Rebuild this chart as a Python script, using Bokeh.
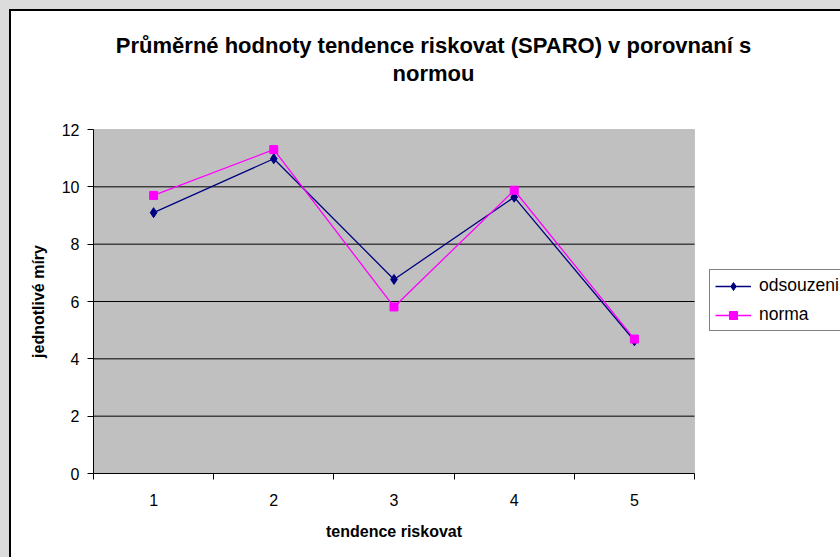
from bokeh.plotting import figure
from bokeh.models import FixedTicker, Legend, LegendItem, Range1d, BoxAnnotation, Label
from bokeh.embed import file_html
from bokeh.resources import INLINE

# ---- data ----
title_lines = ["Průměrné hodnoty tendence riskovat (SPARO) v porovnaní s", "normou"]
categories = ["1", "2", "3", "4", "5"]
odsouzeni = [9.10, 10.98, 6.77, 9.64, 4.63]
norma = [9.70, 11.30, 5.81, 9.88, 4.69]
y_ticks = [0, 2, 4, 6, 8, 10, 12]
x_label = "tendence riskovat"
y_label = "jednotlivé míry"
series_names = ["odsouzeni", "norma"]

FONT = "Liberation Sans"
W, H = 840, 557
# plot-area edges in pixels
PL, PR, PT, PB = 93, 694, 129, 473
TITLE_CX = 433
TITLE_Y = [45, 73]
LEGEND_LEFT, LEGEND_BOTTOM = 709, 331

x_pos = list(range(1, len(categories) + 1))
x_lo, x_hi = 0.5, len(categories) + 0.5
y_lo, y_hi = y_ticks[0], y_ticks[-1]

# the frame fills the whole canvas; the plot area is a data-space box inside it
kx = (x_hi - x_lo) / (PR - PL)
ky = (y_hi - y_lo) / (PB - PT)
xr = Range1d(x_lo - PL * kx, x_hi + (W - PR) * kx)
yr = Range1d(y_lo - (H - PB) * ky, y_hi + PT * ky)

p = figure(width=W, height=H, output_backend="svg", toolbar_location=None, title=None,
           x_range=xr, y_range=yr, min_border=0)
p.background_fill_alpha = 0
p.border_fill_alpha = 0
p.outline_line_color = None
p.styles = {"background-color": "white",
            "box-shadow": "inset 9px 9px 0 0 #dcdcdc, inset 11px 11px 0 0 #000000"}

# plot area
p.add_layout(BoxAnnotation(left=x_lo, right=x_hi, bottom=y_lo, top=y_hi,
                           fill_color="#c0c0c0", fill_alpha=1,
                           line_color="#808080", line_width=1, level="image"))

# horizontal grid lines
grid_vals = y_ticks[1:-1]
p.segment(x0=[x_lo] * len(grid_vals), x1=[x_hi] * len(grid_vals), y0=grid_vals, y1=grid_vals,
          line_color="black", line_width=1)

# axes
xa = p.xaxis[0]
xa.fixed_location = y_lo
xa.bounds = (x_lo, x_hi)
xa.ticker = FixedTicker(ticks=x_pos, minor_ticks=[x - 0.5 for x in x_pos] + [x_pos[-1] + 0.5])
xa.major_label_overrides = {x: c for x, c in zip(x_pos, categories)}
xa.major_tick_out = 0
xa.major_tick_in = 0
xa.minor_tick_out = 6
xa.minor_tick_in = 0
xa.minor_tick_line_color = "black"
xa.axis_line_color = "black"
xa.major_label_text_font = FONT
xa.major_label_text_font_size = "16px"
xa.major_label_text_color = "black"
xa.major_label_standoff = 14
xa.axis_label = x_label
xa.axis_label_text_font = FONT
xa.axis_label_text_font_style = "bold"
xa.axis_label_text_font_size = "16px"
xa.axis_label_text_color = "black"
xa.axis_label_standoff = 14

ya = p.yaxis[0]
ya.fixed_location = x_lo
ya.bounds = (y_lo, y_hi)
ya.ticker = FixedTicker(ticks=y_ticks)
ya.major_tick_out = 6
ya.major_tick_in = 0
ya.minor_tick_out = 0
ya.minor_tick_in = 0
ya.major_tick_line_color = "black"
ya.axis_line_color = "black"
ya.major_label_text_font = FONT
ya.major_label_text_font_size = "16px"
ya.major_label_text_color = "black"
ya.major_label_standoff = 8
ya.axis_label = y_label
ya.axis_label_text_font = FONT
ya.axis_label_text_font_style = "bold"
ya.axis_label_text_font_size = "16px"
ya.axis_label_text_color = "black"
ya.axis_label_standoff = 12

p.xgrid.visible = False
p.ygrid.visible = False

# series
r1 = p.line(x_pos, odsouzeni, line_color="#000080", line_width=1.3)
m1 = p.scatter(x_pos, odsouzeni, marker="diamond", size=10,
               fill_color="#000080", line_color="#000080")
r2 = p.line(x_pos, norma, line_color="#ff00ff", line_width=1.3)
m2 = p.scatter(x_pos, norma, marker="square", size=8, fill_color="#ff00ff", line_color="#ff00ff")

legend = Legend(items=[LegendItem(label=series_names[0], renderers=[r1, m1]),
                       LegendItem(label=series_names[1], renderers=[r2, m2])],
                location=(LEGEND_LEFT, H - LEGEND_BOTTOM),
                orientation="vertical",
                border_line_color="black", border_line_width=1,
                background_fill_color="white", background_fill_alpha=1,
                label_text_font=FONT, label_text_font_size="17.5px", label_text_color="black",
                glyph_width=36, glyph_height=20, label_height=20, label_width=90, label_standoff=8,
                spacing=8, padding=5, margin=0)
p.add_layout(legend)

# title (two centred lines)
for txt, ty in zip(title_lines, TITLE_Y):
    p.add_layout(Label(x=TITLE_CX, y=H - ty, x_units="screen", y_units="screen", text=txt,
                       text_align="center", text_baseline="middle",
                       text_font=FONT, text_font_style="bold", text_font_size="22px",
                       text_color="black"))

open("out.html", "w").write(file_html(p, INLINE))
